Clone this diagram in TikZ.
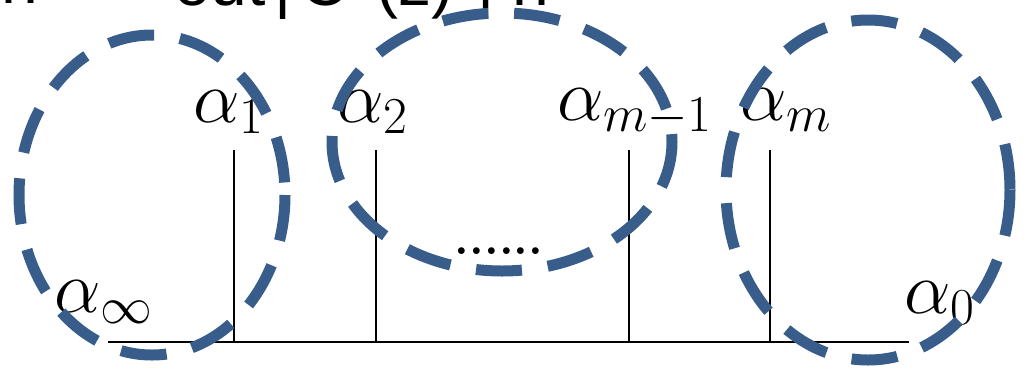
\RequirePackage{fix-cm}
\documentclass[tikz,border=0pt]{standalone}
\usepackage{fontspec}
\newfontfamily\topfont{Liberation Sans}
\definecolor{ringblue}{RGB}{56,93,138}
\begin{document}
\begin{tikzpicture}[x=1pt,y=-1pt,
  stem/.style={line width=1.8pt,draw=black},
  ring/.style={draw=ringblue,line width=11pt,dash pattern=on 46pt off 26pt},
  lbl/.style={anchor=base west,inner sep=0pt,font=\fontsize{74}{80}\selectfont},
  toptxt/.style={anchor=base west,inner sep=0pt,font=\topfont\fontsize{66}{70}\selectfont}]
\useasboundingbox (0,0) rectangle (1026,368);
% top text (mostly cut off)
\node[toptxt] (t1) at (1,3) {n =};
\node[toptxt] (t2) at (174,5) {out};
\node[toptxt] (t3) at (274,5) {|};
\node[toptxt] (t4) at (300,5) {C};
\node[toptxt] (t5) at (376,5) {(z)};
\node[toptxt] (t6) at (477,5) {| n};
% tree
\coordinate (L) at (108,342);
\coordinate (R) at (909,342);
\coordinate (a1) at (234,150); \coordinate (b1) at (234,342);
\coordinate (a2) at (376,150); \coordinate (b2) at (376,342);
\coordinate (a3) at (629,150); \coordinate (b3) at (629,342);
\coordinate (a4) at (770,150); \coordinate (b4) at (770,342);
\draw[stem] (L) -- (R);
\draw[stem] (a1) -- (b1);
\draw[stem] (a2) -- (b2);
\draw[stem] (a3) -- (b3);
\draw[stem] (a4) -- (b4);
% labels
\node[lbl] (l1) at (193,122) {$\alpha_1$};
\node[lbl] (l2) at (337,122) {$\alpha_2$};
\node[lbl] (l3) at (557,120) {$\alpha_{m-1}$};
\node[lbl] (l4) at (740,120) {$\alpha_m$};
\node[lbl] (linf) at (54,312) {$\alpha_\infty$};
\node[lbl] (l0) at (904,313) {$\alpha_0$};
\node[anchor=base,inner sep=0pt,font=\bfseries\fontsize{47}{52}\selectfont] (dots) at (499,254) {......};
% dashed groups
\draw[ring] (152,195) ellipse [x radius=133, y radius=160];
\draw[ring] (502,142) ellipse [x radius=170, y radius=129];
\draw[ring] (868,190) ellipse [x radius=142, y radius=170];
\end{tikzpicture}
\end{document}
